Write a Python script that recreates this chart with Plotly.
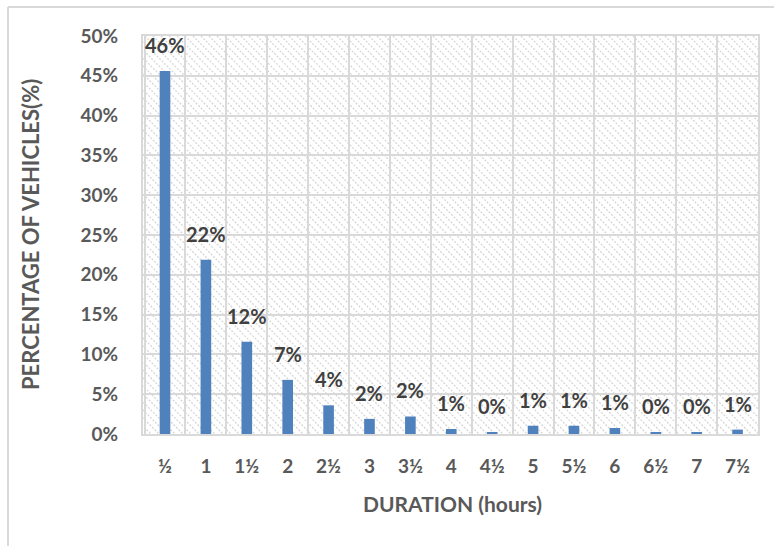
import base64
import plotly.graph_objects as go

categories = ["½", "1", "1½", "2", "2½", "3", "3½", "4", "4½", "5", "5½", "6", "6½", "7", "7½"]
percentages = [0.456, 0.219, 0.116, 0.068, 0.036, 0.019, 0.022, 0.0063, 0.0025, 0.0104, 0.0104, 0.0075, 0.0025, 0.0025, 0.0055]
y_ticks = [0, 0.05, 0.10, 0.15, 0.20, 0.25, 0.30, 0.35, 0.40, 0.45, 0.50]

W, H = 774, 546
L, R, T, B = 143, 16, 36, 112
PW, PH = W - L - R, H - T - B

FONT = "Lato"
TXT = "#595959"
GRID = "#d9d9d9"

# hatch background (Excel-style downward diagonal pattern)
step = 8
lines = []
k = -PH
while k < PW:
    lines.append(f'<line x1="{k:.1f}" y1="0" x2="{k+PH:.1f}" y2="{PH}"/>')
    k += step
svg = (f'<svg xmlns="http://www.w3.org/2000/svg" width="{PW}" height="{PH}" '
       f'viewBox="0 0 {PW} {PH}" preserveAspectRatio="none">'
       f'<g stroke="#d6d6d6" stroke-width="1.3" stroke-dasharray="2,1.5">' + "".join(lines) + '</g></svg>')
uri = "data:image/svg+xml;base64," + base64.b64encode(svg.encode()).decode()

fig = go.Figure()
fig.add_trace(go.Bar(
    x=categories, y=percentages,
    marker=dict(color="#4f81bd", line=dict(width=0)),
    hoverinfo="x+y",
))

for i, v in enumerate(percentages):
    fig.add_annotation(x=i, y=v, text=f"{v:.0%}", showarrow=False,
                       yanchor="bottom", yshift=12,
                       font=dict(family=FONT, size=20, color="#404040", weight="bold"))

# axis titles
fig.add_annotation(xref="paper", yref="paper", x=(30 - L) / PW, y=(T + PH - 235) / PH,
                   text="PERCENTAGE OF VEHICLES(%)", textangle=-90,
                   showarrow=False, xanchor="center", yanchor="middle",
                   font=dict(family=FONT, size=22, color=TXT, weight="bold"))
fig.add_annotation(xref="paper", yref="paper", x=(452 - L) / PW, y=-(503 - (T + PH)) / PH,
                   text="DURATION (hours)", showarrow=False,
                   xanchor="center", yanchor="middle",
                   font=dict(family=FONT, size=21, color=TXT, weight="bold"))

# outer chart border (left and top visible)
fig.add_shape(type="line", xref="paper", yref="paper",
              x0=(8 - L) / PW, x1=(8 - L) / PW, y0=(T + PH - 7) / PH, y1=-(H - T - PH + 20) / PH,
              line=dict(color=GRID, width=2))
fig.add_shape(type="line", xref="paper", yref="paper",
              x0=(8 - L) / PW, x1=(W + 20 - L) / PW, y0=(T + PH - 7) / PH, y1=(T + PH - 7) / PH,
              line=dict(color=GRID, width=2))

fig.add_layout_image(dict(source=uri, xref="paper", yref="paper", x=0, y=1,
                          sizex=1, sizey=1, xanchor="left", yanchor="top",
                          sizing="stretch", layer="below", opacity=1))

tickfont = dict(family=FONT, size=19, color=TXT, weight="bold")
fig.update_layout(
    width=W, height=H, autosize=False,
    margin=dict(l=L, r=R, t=T, b=B),
    paper_bgcolor="white", plot_bgcolor="rgba(0,0,0,0)",
    bargap=0.74, showlegend=False,
    font=dict(family=FONT, color=TXT),
)
fig.update_xaxes(type="category", tickson="boundaries", showgrid=True,
                 gridcolor=GRID, gridwidth=2, showline=True, linecolor=GRID,
                 linewidth=2, mirror=True, ticks="", ticklabelstandoff=14,
                 tickfont=tickfont)
fig.update_yaxes(range=[0, 0.5], tickvals=y_ticks, tickformat=".0%",
                 showgrid=True, gridcolor=GRID, gridwidth=2, zeroline=False,
                 showline=True, linecolor=GRID, linewidth=2, mirror=True,
                 ticks="", ticklabelstandoff=19, tickfont=tickfont)

fig.write_html("out.html", config={"displayModeBar": False},
               post_script="document.body.style.margin='0';document.body.style.overflow='hidden';")
